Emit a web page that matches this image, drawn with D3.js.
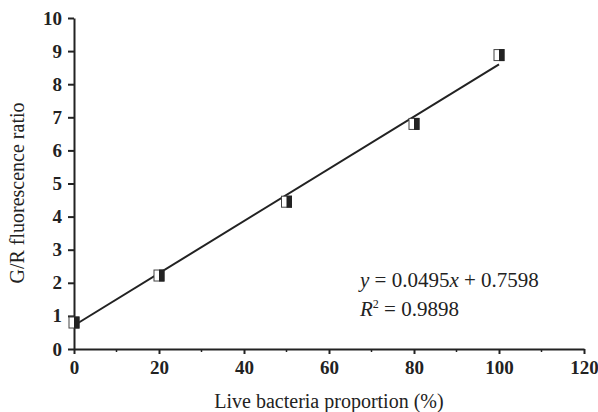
<!DOCTYPE html>
<html>
<head>
<meta charset="utf-8">
<script src="https://cdn.jsdelivr.net/npm/d3@7"></script>
<style>
  body { margin: 0; background: #fff; }
  svg { display: block; }
</style>
</head>
<body>
<div id="chart"></div>
<script>
// --- data ---
const proportions = [0, 20, 50, 80, 100];
const ratios = [0.8, 2.22, 4.45, 6.8, 8.88];
// trend line as drawn in the figure (start / end)
const fitX = [0, 100];
const fitY = [0.71, 8.6];
const eqText = { slope: "0.0495", intercept: "0.7598", r2: "0.9898" };
const xTicks = [0, 20, 40, 60, 80, 100, 120];
const xMinorTicks = [10, 30, 50, 70, 90, 110];
const yTicks = [0, 1, 2, 3, 4, 5, 6, 7, 8, 9, 10];

const width = 598, height = 412;
const margin = { top: 18, right: 14, bottom: 63, left: 74 };

const svg = d3.select("#chart").append("svg")
    .attr("width", width)
    .attr("height", height);

const x = d3.scaleLinear().domain([0, 120]).range([margin.left, width - margin.right]);
const y = d3.scaleLinear().domain([0, 10]).range([height - margin.bottom, margin.top]);

const serif = "'Liberation Serif', 'Times New Roman', serif";
const ink = "#222";

// --- axes ---
const xAxis = svg.append("g")
    .attr("transform", `translate(0,${y(0)})`)
    .call(d3.axisBottom(x).tickValues(xTicks).tickSize(5).tickSizeOuter(0).tickPadding(7));
xAxis.append("g").selectAll("line")
    .data(xMinorTicks)
    .join("line")
    .attr("x1", d => x(d)).attr("x2", d => x(d))
    .attr("y1", 0).attr("y2", 3)
    .attr("stroke", ink).attr("stroke-width", 1.5);

const yAxis = svg.append("g")
    .attr("transform", `translate(${x(0)},0)`)
    .call(d3.axisLeft(y).tickValues(yTicks).tickSize(6).tickSizeOuter(0).tickPadding(6));

[xAxis, yAxis].forEach(g => {
    g.select(".domain").attr("stroke", ink).attr("stroke-width", 2);
    g.selectAll(".tick line").attr("stroke", ink).attr("stroke-width", 2);
    g.selectAll(".tick text")
        .attr("font-family", serif)
        .attr("font-size", "19px")
        .attr("font-weight", "bold")
        .attr("fill", ink);
});

// --- trend line ---
svg.append("line")
    .attr("x1", x(fitX[0])).attr("y1", y(fitY[0]))
    .attr("x2", x(fitX[1])).attr("y2", y(fitY[1]))
    .attr("stroke", ink)
    .attr("stroke-width", 2);

// --- markers: half white, half black squares ---
const mw = 11, mh = 12;
const pts = svg.append("g").selectAll("g")
    .data(proportions.map((p, i) => ({ p, r: ratios[i] })))
    .join("g")
    .attr("transform", d => `translate(${x(d.p)},${y(d.r)})`);
pts.append("rect")
    .attr("x", -mw / 2 + 0.5).attr("y", -mh / 2 + 0.5)
    .attr("width", mw - 1).attr("height", mh - 1)
    .attr("fill", "#fff").attr("stroke", "#444").attr("stroke-width", 1);
pts.append("rect")
    .attr("x", 0).attr("y", -mh / 2)
    .attr("width", mw / 2).attr("height", mh)
    .attr("fill", ink);

// --- axis titles ---
svg.append("text")
    .attr("x", (x(0) + x(120)) / 2)
    .attr("y", 408)
    .attr("text-anchor", "middle")
    .attr("font-family", serif)
    .attr("font-size", "20px")
    .attr("fill", ink)
    .text("Live bacteria proportion (%)");

svg.append("text")
    .attr("transform", `translate(24,193) rotate(-90)`)
    .attr("text-anchor", "middle")
    .attr("font-family", serif)
    .attr("font-size", "20px")
    .attr("fill", ink)
    .text("G/R fluorescence ratio");

// --- equation ---
const eq = svg.append("text")
    .attr("x", 360).attr("y", 287)
    .attr("font-family", serif)
    .attr("font-size", "21px")
    .attr("fill", ink);
eq.append("tspan").attr("font-style", "italic").text("y");
eq.append("tspan").text(` = ${eqText.slope}`);
eq.append("tspan").attr("font-style", "italic").text("x");
eq.append("tspan").text(` + ${eqText.intercept}`);

const r2 = svg.append("text")
    .attr("x", 360).attr("y", 316)
    .attr("font-family", serif)
    .attr("font-size", "21px")
    .attr("fill", ink);
r2.append("tspan").attr("font-style", "italic").text("R");
r2.append("tspan").attr("dy", -8).attr("font-size", "12px").text("2");
r2.append("tspan").attr("dy", 8).text(` = ${eqText.r2}`);
</script>
</body>
</html>
